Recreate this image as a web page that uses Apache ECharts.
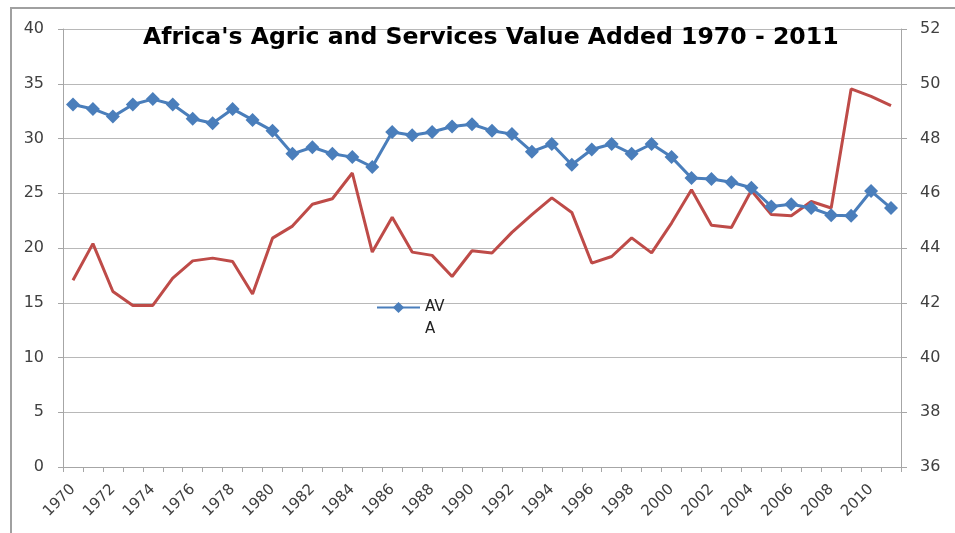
<!DOCTYPE html>
<html>
<head>
<meta charset="utf-8">
<script src="https://cdn.jsdelivr.net/npm/echarts@6/dist/echarts.min.js"></script>
<style>html,body{margin:0;padding:0;background:#fff;}#c{width:955px;height:533px;}</style>
</head>
<body>
<div id="c"></div>
<script>
var years = [];
for (var y = 1970; y <= 2011; y++) years.push(String(y));
var ava = [33.1,32.7,32.0,33.1,33.6,33.1,31.8,31.4,32.7,31.7,30.7,28.6,29.2,28.6,28.3,27.4,30.6,30.3,30.6,31.1,31.3,30.7,30.4,28.8,29.5,27.6,29.0,29.5,28.6,29.5,28.3,26.4,26.3,26.0,25.5,23.8,24.0,23.65,23.0,22.95,25.2,23.65];
var sva = [42.82,44.16,42.41,41.9,41.9,42.9,43.53,43.63,43.51,42.32,44.36,44.8,45.6,45.8,46.74,43.85,45.12,43.85,43.73,42.96,43.9,43.82,44.57,45.22,45.83,45.3,43.45,43.69,44.37,43.82,44.91,46.13,44.83,44.75,46.1,45.22,45.18,45.7,45.46,49.81,49.54,49.2];
var leftTicks = [0, 40, 5];
var rightTicks = [36, 52, 2];

var chart = echarts.init(document.getElementById('c'));
var FONT = 'DejaVu Sans';
var lab = {color:'#404040', fontSize:16, fontFamily:FONT};
var grid = {color:'#b8b8b8', width:1};
chart.setOption({
  animation:false,
  backgroundColor:'#fff',
  title:{text:"Africa's Agric and Services Value Added 1970 - 2011", left:143, top:26, padding:0,
    textStyle:{fontFamily:FONT, fontWeight:'bold', fontSize:23.6, color:'#000'}},
  legend:{data:['AVA'], left:376, top:278, padding:0, itemWidth:43, itemHeight:14, itemGap:4,
    formatter:function(){return '{e| }\n{a|AV}\n{a|A}';},
    textStyle:{fontFamily:FONT, fontSize:15, color:'#222',
      rich:{e:{lineHeight:22, fontSize:15}, a:{lineHeight:22, fontSize:15, fontFamily:FONT, color:'#222'}}}},
  grid:{left:63, right:54, top:29, bottom:66},
  graphic:[{type:'rect', shape:{x:11, y:8, width:1100, height:700}, style:{fill:null, stroke:'#a0a0a0', lineWidth:2}, silent:true}],
  xAxis:{type:'category', data:years, boundaryGap:true,
    axisLine:{lineStyle:{color:'#a6a6a6'}},
    axisTick:{show:true, interval:0, length:5, lineStyle:{color:'#a6a6a6'}},
    axisLabel:Object.assign({}, lab, {interval:1, rotate:45, margin:20, fontSize:15})},
  yAxis:[
    {type:'value', min:leftTicks[0], max:leftTicks[1], interval:leftTicks[2],
     axisLine:{show:true, lineStyle:{color:'#a6a6a6'}},
     axisTick:{show:true, length:5, lineStyle:{color:'#a6a6a6'}},
     splitLine:{lineStyle:grid},
     axisLabel:Object.assign({margin:19}, lab)},
    {type:'value', min:rightTicks[0], max:rightTicks[1], interval:rightTicks[2], position:'right',
     axisLine:{show:true, lineStyle:{color:'#a6a6a6'}},
     axisTick:{show:true, length:6, lineStyle:{color:'#a6a6a6'}},
     splitLine:{show:false},
     axisLabel:Object.assign({margin:19}, lab)}
  ],
  series:[
    {name:'AVA', type:'line', data:ava, yAxisIndex:0, symbol:'diamond', symbolSize:14, showAllSymbol:true,
     lineStyle:{color:'#4a7ebb', width:3}, itemStyle:{color:'#4a7ebb'}, z:3},
    {name:'SVA', type:'line', data:sva, yAxisIndex:1, symbol:'none',
     lineStyle:{color:'#be4b48', width:3}, itemStyle:{color:'#be4b48'}, z:2}
  ]
});
</script>
</body>
</html>
